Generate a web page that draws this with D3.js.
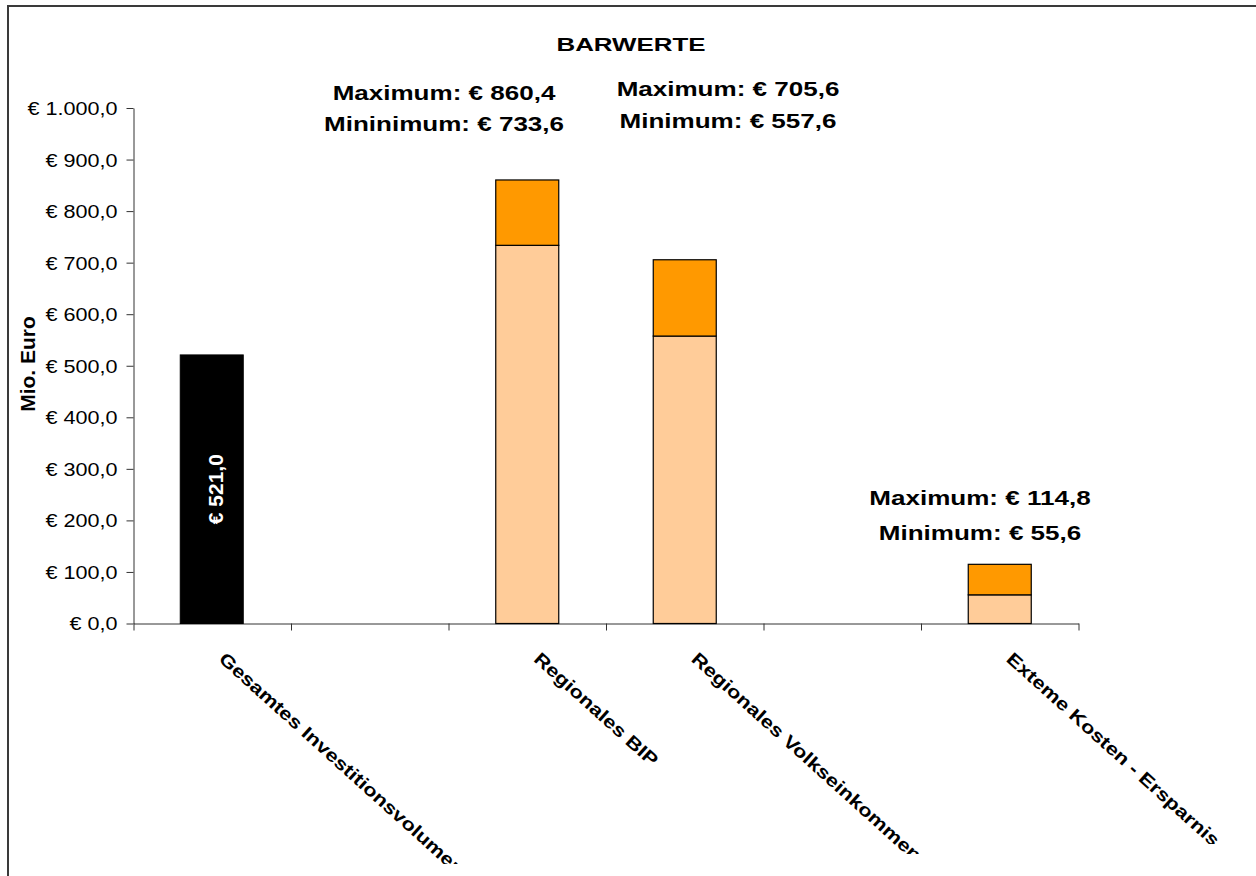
<!DOCTYPE html>
<html><head><meta charset="utf-8">
<script src="https://cdn.jsdelivr.net/npm/d3@7"></script>
<style>
html,body{margin:0;padding:0;background:#fff;overflow:hidden}
text{font-family:"Liberation Sans",Arial,sans-serif;fill:#000}
</style></head>
<body><svg id="c" width="1256" height="876"></svg>
<script>
// ---- data ----
const categories = ["Gesamtes Investitionsvolumen", "", "Regionales BIP", "Regionales Volkseinkommen", "", "Exteme Kosten - Ersparnis"];
const investValues = [521.0, null, null, null, null, null];
const minValues = [null, null, 733.6, 557.6, null, 55.6];
const maxValues = [null, null, 860.4, 705.6, null, 114.8];
const minLabelWords = ["", "", "Mininimum", "Minimum", "", "Minimum"];
const maxLabelWords = ["", "", "Maximum", "Maximum", "", "Maximum"];
const yTicks = [0, 100, 200, 300, 400, 500, 600, 700, 800, 900, 1000];
const title = "BARWERTE";
const yTitle = "Mio. Euro";

// ---- layout (positions only) ----
const annoPos = [null, null, {x:444, yMax:100, yMin:131}, {x:728, yMax:96, yMin:128}, null, {x:980, yMax:505, yMin:540}];
const labelClip = [864, 900, 900, 854, 900, 844];

const loc = d3.formatLocale({decimal:",", thousands:".", grouping:[3], currency:["€ ",""]});
const fmt = loc.format("$,.1f");

const svg = d3.select("#c");
// frame
svg.append("rect").attr("x",8).attr("y",6).attr("width",1300).attr("height",900)
  .attr("fill","#fff").attr("stroke","#3a3a3a").attr("stroke-width",2);

const x0 = 133, x1 = 1078;
const y = d3.scaleLinear().domain([0,1000]).range([623.5,108]);
const x = d3.scaleBand().domain(d3.range(categories.length)).range([x0,x1]).padding(0);
const bw = x.bandwidth()*0.4;
const bx = i => x(i) + (x.bandwidth()-bw)/2;

// y axis
const yAxis = svg.append("g").attr("transform",`translate(${x0+0.5},0)`)
  .call(d3.axisLeft(y).tickValues(yTicks).tickSize(7).tickSizeOuter(0).tickFormat(fmt));
yAxis.select(".domain").attr("stroke","#333");
yAxis.selectAll(".tick line").attr("stroke","#333");
yAxis.selectAll(".tick text").attr("x",0).attr("dy","0.36em")
  .attr("transform","translate(-16,0) scale(1.2,1)")
  .style("font-size","18px").style("font-family","'Liberation Sans',Arial,sans-serif").attr("fill","#000");

// x axis
const xl = d3.scaleLinear().domain([0,categories.length]).range([x0,x1]);
const xAxis = svg.append("g").attr("transform",`translate(0.5,${y(0)})`)
  .call(d3.axisBottom(xl).ticks(categories.length).tickSize(7).tickSizeOuter(0).tickFormat(""));
xAxis.select(".domain").attr("stroke","#333");
xAxis.selectAll(".tick line").attr("stroke","#333");

// bars
const g = svg.append("g");
g.selectAll(".inv").data(investValues.map((v,i)=>({v,i})).filter(d=>d.v!=null)).join("rect")
  .attr("x",d=>bx(d.i)).attr("width",bw).attr("y",d=>y(d.v)).attr("height",d=>y(0)-y(d.v))
  .attr("fill","#000").attr("stroke","#000");
g.selectAll(".mn").data(minValues.map((v,i)=>({v,i})).filter(d=>d.v!=null)).join("rect")
  .attr("x",d=>bx(d.i)+0.5).attr("width",bw).attr("y",d=>y(d.v)).attr("height",d=>y(0)-y(d.v))
  .attr("fill","#FFCC99").attr("stroke","#000").attr("stroke-width",1.2);
g.selectAll(".mx").data(maxValues.map((v,i)=>({v,i,m:minValues[i]})).filter(d=>d.v!=null)).join("rect")
  .attr("x",d=>bx(d.i)+0.5).attr("width",bw).attr("y",d=>y(d.v)).attr("height",d=>y(d.m)-y(d.v))
  .attr("fill","#FF9900").attr("stroke","#000").attr("stroke-width",1.2);

// bar value label (vertical, white)
investValues.forEach((v,i)=>{
  if(v==null) return;
  svg.append("text").attr("transform",`translate(${x(i)+x.bandwidth()/2+11},${(y(v)+y(0))/2}) rotate(-90)`)
    .attr("text-anchor","middle").style("font-size","21px").style("font-weight","bold")
    .style("fill","#fff").text(fmt(v));
});

// annotations
maxValues.forEach((v,i)=>{
  if(v==null) return;
  const p = annoPos[i];
  svg.append("text").attr("transform",`translate(${p.x},${p.yMax}) scale(1.24,1)`)
    .attr("text-anchor","middle").style("font-size","21px").style("font-weight","bold")
    .text(`${maxLabelWords[i]}: ${fmt(v)}`);
  svg.append("text").attr("transform",`translate(${p.x},${p.yMin}) scale(1.24,1)`)
    .attr("text-anchor","middle").style("font-size","21px").style("font-weight","bold")
    .text(`${minLabelWords[i]}: ${fmt(minValues[i])}`);
});

// title
svg.append("text").attr("transform","translate(631,51) scale(1.48,1)").attr("text-anchor","middle")
  .style("font-size","17.5px").style("font-weight","bold").text(title);

// y title
svg.append("text").attr("transform","translate(35,364) rotate(-90)").attr("text-anchor","middle")
  .style("font-size","21px").style("font-weight","bold").text(yTitle);

// category labels
const defs = svg.append("defs");
categories.forEach((c,i)=>{
  if(!c) return;
  defs.append("clipPath").attr("id","cl"+i).append("rect")
    .attr("x",0).attr("y",0).attr("width",1256).attr("height",labelClip[i]);
  svg.append("g").attr("clip-path",`url(#cl${i})`).append("text")
    .attr("transform",`translate(${x(i)+x.bandwidth()/2+6},${y(0)+37}) rotate(42) scale(1.22,1)`)
    .style("font-size","18px").style("font-weight","bold").text(c);
});
</script></body></html>
